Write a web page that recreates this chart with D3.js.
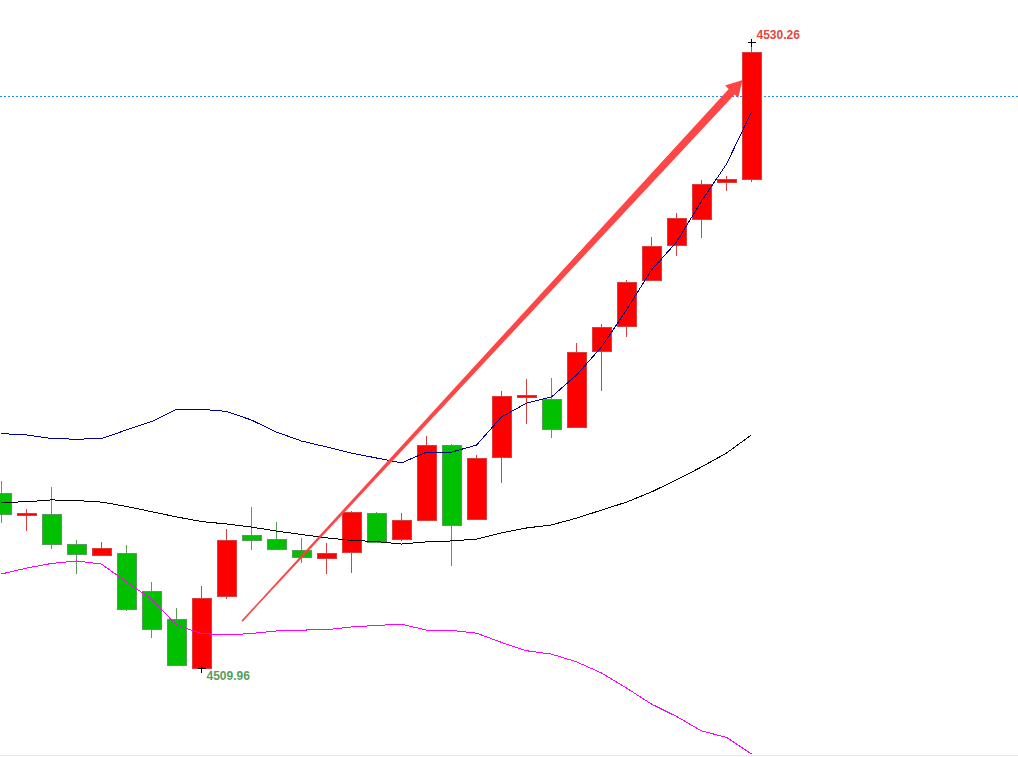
<!DOCTYPE html>
<html>
<head>
<meta charset="utf-8">
<script src="https://cdn.jsdelivr.net/npm/d3@7/dist/d3.min.js"></script>
<style>
  body { margin: 0; background: #ffffff; overflow: hidden; }
  svg { display: block; }
</style>
</head>
<body>
<div id="chart"></div>
<script>

// candle data (one bar per index)
var opens  = [4515.64, 4514.92, 4514.95, 4513.98, 4513.62, 4513.69, 4512.46, 4511.55, 4509.96, 4512.29,
              4514.27, 4514.14, 4513.79, 4513.53, 4513.72, 4514.99, 4514.14, 4514.76, 4517.19, 4514.79,
              4516.80, 4518.75, 4518.68, 4517.78, 4520.24, 4521.05, 4522.54, 4523.68, 4524.52, 4525.74,
              4525.83];
var highs  = [4516.02, 4515.10, 4515.83, 4514.11, 4514.05, 4513.95, 4512.75, 4511.91, 4512.62, 4514.47,
              4515.18, 4514.69, 4514.17, 4514.01, 4515.05, 4515.02, 4514.99, 4517.48, 4517.22, 4516.87,
              4518.94, 4519.32, 4519.36, 4520.50, 4521.12, 4522.54, 4523.95, 4524.73, 4525.77, 4525.91,
              4530.26];
var lows   = [4514.66, 4514.41, 4513.82, 4513.01, 4513.59, 4511.81, 4510.93, 4510.06, 4509.96, 4512.20,
              4513.79, 4513.82, 4513.36, 4513.01, 4513.04, 4514.05, 4514.08, 4514.76, 4513.27, 4514.79,
              4515.96, 4517.87, 4517.42, 4517.78, 4518.94, 4520.68, 4522.54, 4523.32, 4523.92, 4525.43,
              4525.72];
var closes = [4514.95, 4514.99, 4513.98, 4513.66, 4513.85, 4511.87, 4511.22, 4510.06, 4512.23, 4514.11,
              4514.11, 4513.82, 4513.56, 4513.69, 4515.02, 4514.05, 4514.76, 4517.19, 4514.60, 4516.77,
              4518.78, 4518.81, 4517.71, 4520.21, 4521.02, 4522.48, 4523.64, 4524.54, 4525.64, 4525.83,
              4529.94];

// bollinger bands
var bollUpper = [4517.56, 4517.52, 4517.40, 4517.38, 4517.40, 4517.68, 4517.95, 4518.35, 4518.35, 4518.28,
                 4518.00, 4517.61, 4517.32, 4517.13, 4516.93, 4516.77, 4516.61, 4516.96, 4516.96, 4517.19,
                 4518.10, 4518.55, 4518.75, 4519.46, 4520.37, 4521.57, 4522.87, 4523.77, 4525.10, 4526.30,
                 4527.99];
var bollMid   = [4515.33, 4515.35, 4515.41, 4515.39, 4515.34, 4515.20, 4515.03, 4514.86, 4514.71, 4514.63,
                 4514.53, 4514.40, 4514.29, 4514.18, 4514.10, 4514.06, 4513.98, 4514.05, 4514.08, 4514.14,
                 4514.34, 4514.50, 4514.60, 4514.82, 4515.08, 4515.34, 4515.67, 4516.06, 4516.48, 4516.93,
                 4517.52];
var bollLower = [4513.01, 4513.20, 4513.35, 4513.43, 4513.33, 4512.75, 4512.20, 4511.35, 4511.08, 4511.03,
                 4511.08, 4511.16, 4511.19, 4511.20, 4511.29, 4511.34, 4511.38, 4511.19, 4511.18, 4511.09,
                 4510.79, 4510.52, 4510.41, 4510.16, 4509.80, 4509.31, 4508.79, 4508.39, 4507.92, 4507.71,
                 4507.17];

// annotations: dotted price line, trend arrow (index, price)
var markPrice = 4528.51;
var arrowFrom = [9.62, 4511.48];
var arrowTo   = [29.64, 4529.03];

var width = 1018, height = 757;

var svg = d3.select("#chart")
            .append("svg")
            .attr("width", width)
            .attr("height", height)
            .style("background-color", "#ffffff");

var x = d3.scaleLinear()
          .domain([0, 30])
          .range([1.5, 751.5]);

var y = d3.scaleLinear()
          .domain([d3.min(lows), d3.max(highs)])
          .range([668, 42]);

var candles = opens.map(function(o, i) {
    return { i: i, o: o, h: highs[i], l: lows[i], c: closes[i], up: closes[i] >= o };
});

// bottom border
svg.append("line")
   .attr("x1", 0).attr("x2", width)
   .attr("y1", 755.5).attr("y2", 755.5)
   .attr("stroke", "#e4e8e8")
   .attr("stroke-width", 1);

// dotted price line
svg.append("line")
   .attr("x1", 0).attr("x2", width)
   .attr("y1", Math.round(y(markPrice)) + 0.5)
   .attr("y2", Math.round(y(markPrice)) + 0.5)
   .attr("stroke", "#1e8cff")
   .attr("stroke-width", 1)
   .attr("stroke-dasharray", "2,2");

// candles
var cg = svg.append("g").attr("class", "candles");

cg.selectAll("line.wick")
  .data(candles)
  .enter()
  .append("line")
  .attr("class", "wick")
  .attr("x1", function(d) { return Math.floor(x(d.i)) + 0.5; })
  .attr("x2", function(d) { return Math.floor(x(d.i)) + 0.5; })
  .attr("y1", function(d) { return y(d.h); })
  .attr("y2", function(d) { return y(d.l); })
  .attr("stroke", function(d) { return d.up ? "#d84040" : "#5a9a5a"; })
  .attr("stroke-width", 1)
  .attr("shape-rendering", "crispEdges");

cg.selectAll("rect.body")
  .data(candles)
  .enter()
  .append("rect")
  .attr("class", "body")
  .attr("x", function(d) { return Math.floor(x(d.i)) - 9 + 0.5; })
  .attr("width", 19)
  .attr("y", function(d) { return Math.round(y(Math.max(d.o, d.c))) + 0.5; })
  .attr("height", function(d) { return Math.max(1, Math.round(Math.abs(y(d.o) - y(d.c)))); })
  .attr("fill", function(d) { return d.up ? "#ff0000" : "#00c000"; })
  .attr("stroke", function(d) { return d.up ? "#dc3c3c" : "#5a9a5a"; })
  .attr("stroke-width", 1)
  .attr("shape-rendering", "crispEdges");

// bands (drawn over the candles)
var bandLine = d3.line()
                 .x(function(d, i) { return x(i); })
                 .y(function(d) { return y(d); });

[[bollUpper, "#00008e"], [bollMid, "#000000"], [bollLower, "#ff00ff"]].forEach(function(b) {
    svg.append("path")
       .datum(b[0])
       .attr("d", bandLine)
       .attr("fill", "none")
       .attr("stroke", b[1])
       .attr("stroke-width", 1)
       .attr("shape-rendering", "crispEdges");
});

// trend arrow (tapered shaft + head)
var p0 = [x(arrowFrom[0]), y(arrowFrom[1])];
var p1 = [x(arrowTo[0]), y(arrowTo[1])];
var dx = p1[0] - p0[0], dy = p1[1] - p0[1];
var len = Math.sqrt(dx * dx + dy * dy);
var ux = dx / len, uy = dy / len;
var nx = -uy, ny = ux;
var headLen = 16, headHalf = 9, w0 = 1.5, w1 = 8;
var hb = [p1[0] - ux * headLen, p1[1] - uy * headLen];

var arrowPts = [
    [p0[0] + nx * w0 / 2, p0[1] + ny * w0 / 2],
    [hb[0] + nx * w1 / 2, hb[1] + ny * w1 / 2],
    [hb[0] + nx * headHalf, hb[1] + ny * headHalf],
    p1,
    [hb[0] - nx * headHalf, hb[1] - ny * headHalf],
    [hb[0] - nx * w1 / 2, hb[1] - ny * w1 / 2],
    [p0[0] - nx * w0 / 2, p0[1] - ny * w0 / 2]
];

svg.append("path")
   .attr("d", "M" + arrowPts.map(function(p) { return p[0] + "," + p[1]; }).join("L") + "Z")
   .attr("fill", "#ff3c3c")
   .attr("fill-opacity", 0.95);

// high / low markers and labels
var fmt = d3.format(".2f");
var hi = d3.maxIndex(highs), lo = d3.minIndex(lows);

function cross(cx, cy) {
    cx = Math.floor(cx) + 0.5; cy = Math.round(cy) + 0.5;
    svg.append("path")
       .attr("d", "M" + (cx - 4) + "," + cy + "H" + (cx + 4) + "M" + cx + "," + (cy - 4) + "V" + (cy + 4))
       .attr("stroke", "#000000")
       .attr("stroke-width", 1)
       .attr("shape-rendering", "crispEdges");
}
cross(x(hi), y(highs[hi]));
cross(x(lo), y(lows[lo]));

svg.append("text")
   .attr("x", x(hi) + 5)
   .attr("y", y(highs[hi]) - 3)
   .attr("fill", "#e04a3c")
   .attr("font-family", "'Liberation Sans', Arial, sans-serif")
   .attr("font-weight", "bold")
   .attr("font-size", 12)
   .text(fmt(highs[hi]));

svg.append("text")
   .attr("x", x(lo) + 5)
   .attr("y", y(lows[lo]) + 12)
   .attr("fill", "#5c9c5c")
   .attr("font-family", "'Liberation Sans', Arial, sans-serif")
   .attr("font-weight", "bold")
   .attr("font-size", 12)
   .text(fmt(lows[lo]));

</script>
</body>
</html>
